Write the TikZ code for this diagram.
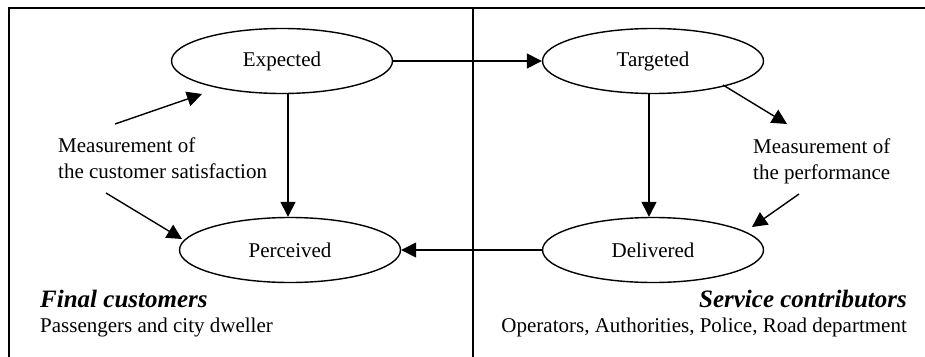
\documentclass[tikz,border=0pt]{standalone}
\usepackage{fontspec}
\setmainfont{Liberation Serif}
\usetikzlibrary{arrows.meta,shapes.geometric}
\begin{document}
\begin{tikzpicture}[x=1pt,y=-1pt,
  oval/.style={draw,line width=1.4pt,ellipse,minimum width=221pt,minimum height=65pt,inner sep=0pt,font=\fontsize{21}{25}\selectfont},
  arr/.style={line width=1.4pt,-{Triangle[length=15pt,width=15pt]}},
  lbl/.style={inner sep=0pt,align=left,font=\fontsize{21}{26}\selectfont},
  head/.style={inner sep=0pt,font=\fontsize{25}{30}\selectfont\bfseries\itshape},
  sub/.style={inner sep=0pt,font=\fontsize{21}{25}\selectfont},
  frame/.style={line width=2pt}]
\useasboundingbox (0,0) rectangle (925,356);
% frame
\coordinate (tl) at (9,8);
\coordinate (tr) at (926,8);
\coordinate (bl) at (9,357);
\coordinate (dt) at (473,8);
\coordinate (db) at (473,357);
\draw[frame] (bl) -- (tl) -- (tr);
\draw[frame] (dt) -- (db);
% ellipses
\node[oval] (exp) at (282,61) {Expected};
\node[oval] (tar) at (653,61) {Targeted};
\node[oval] (per) at (290,250) {Perceived};
\node[oval] (del) at (653,250) {Delivered};
% main connectors
\draw[arr] (exp.east) -- (tar.west);
\draw[arr] (exp.south -| 288,0) -- (per.north -| 288,0);
\draw[arr] (tar.south -| 649,0) -- (del.north -| 649,0);
\draw[arr] (del.west) -- (per.east);
% measurement labels
\node[lbl,anchor=base west] (mcs) at (58,178) {Measurement of\\the customer satisfaction};
\node[lbl,anchor=base west] (mp) at (753,179) {Measurement of\\the performance};
\coordinate (a1s) at (115,124);
\coordinate (a1e) at (202,94);
\coordinate (a2s) at (106,193);
\coordinate (a2e) at (182,239);
\coordinate (a3s) at (723,85);
\coordinate (a3e) at (787,124);
\coordinate (a4s) at (799,194);
\coordinate (a4e) at (752,227);
\draw[arr] (a1s) -- (a1e);
\draw[arr] (a2s) -- (a2e);
\draw[arr] (a3s) -- (a3e);
\draw[arr] (a4s) -- (a4e);
% bottom labels
\node[head,anchor=base west] (fc) at (40,307) {Final customers};
\node[sub,anchor=base west] (pcd) at (40,332) {Passengers and city dweller};
\node[head,anchor=base east] (sc) at (907,307) {Service contributors};
\node[sub,anchor=base east] (oap) at (907,332) {Operators, Authorities, Police, Road department};
\end{tikzpicture}
\end{document}
